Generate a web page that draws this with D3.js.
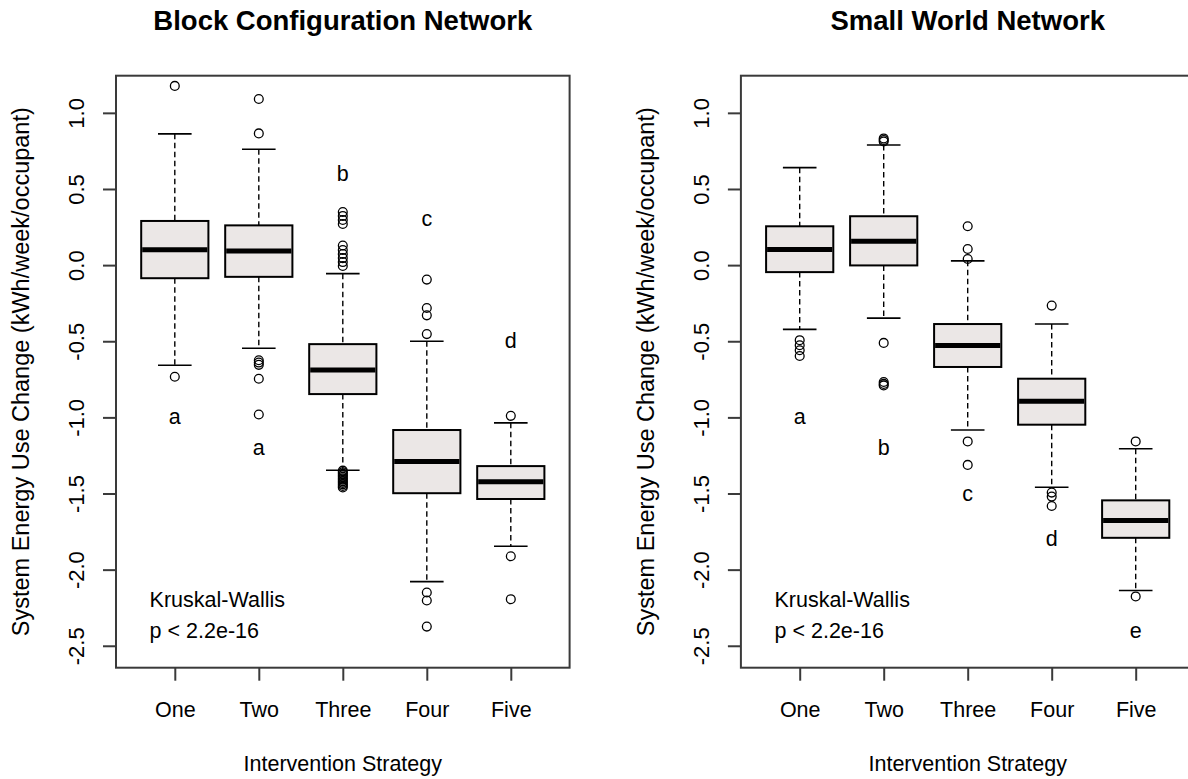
<!DOCTYPE html>
<html>
<head>
<meta charset="utf-8">
<script src="https://cdn.jsdelivr.net/npm/d3@7"></script>
<style>
  html, body { margin: 0; padding: 0; background: #fff; }
  svg text { font-family: "Liberation Sans", Arial, sans-serif; fill: #000; }
</style>
</head>
<body>
<svg id="chart" width="1188" height="779"></svg>
<script>
// Intervention strategies (x categories)
const strategies = ["One", "Two", "Three", "Four", "Five"];
const yTicks = [-2.5, -2.0, -1.5, -1.0, -0.5, 0.0, 0.5, 1.0];

// Block configuration network: box statistics per strategy
const blockLowWhisker  = [-0.658, -0.546, -1.347, -2.079, -1.846];
const blockQ1          = [-0.086, -0.077, -0.847, -1.498, -1.536];
const blockMedian      = [ 0.101,  0.092, -0.689, -1.290, -1.422];
const blockQ3          = [ 0.290,  0.261, -0.519, -1.083, -1.320];
const blockHighWhisker = [ 0.862,  0.761, -0.056, -0.500, -1.036];
const blockOutliers = [
  [1.177, -0.733],
  [1.091, 0.865, -0.625, -0.640, -0.655, -0.746, -0.981],
  [0.349, 0.323, 0.296, 0.270, 0.129, 0.099, 0.073, 0.046, 0.020, -0.006,
   -1.350, -1.360, -1.370, -1.380, -1.390, -1.400, -1.410, -1.420, -1.430, -1.440, -1.450, -1.460],
  [-0.095, -0.282, -0.330, -0.453, -2.150, -2.203, -2.374],
  [-0.990, -1.912, -2.194]
];
const blockLetters  = ["a", "a", "b", "c", "d"];
const blockLetterY  = [-1.0, -1.2, 0.6, 0.3, -0.5];

// Small world network: box statistics per strategy
const swLowWhisker  = [-0.422, -0.348, -1.083, -1.459, -2.137];
const swQ1          = [-0.046, -0.002, -0.669, -1.048, -1.791];
const swMedian      = [ 0.103,  0.156, -0.528, -0.894, -1.677];
const swQ3          = [ 0.255,  0.321, -0.387, -0.746, -1.545];
const swHighWhisker = [ 0.640,  0.789,  0.028, -0.387, -1.206];
const swOutliers = [
  [-0.493, -0.526, -0.559, -0.597],
  [0.832, 0.822, 0.812, -0.511, -0.768, -0.780, -0.790],
  [0.255, 0.106, 0.040, -1.158, -1.312],
  [-0.266, -1.494, -1.520, -1.582],
  [-1.158, -2.176]
];
const swLetters = ["a", "b", "c", "d", "e"];
const swLetterY = [-1.0, -1.2, -1.5, -1.8, -2.4];

const testName = "Kruskal-Wallis";
const testP = "p < 2.2e-16";

const svg = d3.select("#chart");

const frameTop = 75.7, frameBottom = 667.7, frameWidth = 453.6;
const y = d3.scaleLinear().domain([-2.644, 1.244]).range([frameBottom, frameTop]);

function panel(opts) {
  const left = opts.left;
  const x = d3.scaleLinear().domain([0.3, 5.7]).range([left, left + frameWidth]);
  const unit = x(1) - x(0);
  const boxW = 0.8 * unit;
  const capW = 0.4 * unit;
  const g = svg.append("g");

  const boxes = strategies.map((s, i) => ({
    name: s, pos: i + 1,
    lo: opts.low[i], q1: opts.q1[i], med: opts.med[i], q3: opts.q3[i], hi: opts.high[i],
    out: opts.out[i]
  }));

  const bg = g.selectAll("g.box").data(boxes).join("g").attr("class", "box");

  // dashed whiskers
  bg.append("line")
    .attr("x1", d => x(d.pos)).attr("x2", d => x(d.pos))
    .attr("y1", d => y(d.hi)).attr("y2", d => y(d.q3))
    .attr("stroke", "#000").attr("stroke-width", 1.4).attr("stroke-dasharray", "5.5,3.5");
  bg.append("line")
    .attr("x1", d => x(d.pos)).attr("x2", d => x(d.pos))
    .attr("y1", d => y(d.q1)).attr("y2", d => y(d.lo))
    .attr("stroke", "#000").attr("stroke-width", 1.4).attr("stroke-dasharray", "5.5,3.5");
  // whisker caps
  bg.append("line")
    .attr("x1", d => x(d.pos) - capW / 2).attr("x2", d => x(d.pos) + capW / 2)
    .attr("y1", d => y(d.hi)).attr("y2", d => y(d.hi))
    .attr("stroke", "#000").attr("stroke-width", 1.6);
  bg.append("line")
    .attr("x1", d => x(d.pos) - capW / 2).attr("x2", d => x(d.pos) + capW / 2)
    .attr("y1", d => y(d.lo)).attr("y2", d => y(d.lo))
    .attr("stroke", "#000").attr("stroke-width", 1.6);
  // box
  bg.append("rect")
    .attr("x", d => x(d.pos) - boxW / 2).attr("width", boxW)
    .attr("y", d => y(d.q3)).attr("height", d => y(d.q1) - y(d.q3))
    .attr("fill", "#ebe7e6").attr("stroke", "#000").attr("stroke-width", 2);
  // median
  bg.append("line")
    .attr("x1", d => x(d.pos) - boxW / 2 + 1).attr("x2", d => x(d.pos) + boxW / 2 - 1)
    .attr("y1", d => y(d.med)).attr("y2", d => y(d.med))
    .attr("stroke", "#000").attr("stroke-width", 5);
  // outliers
  bg.selectAll("circle").data(d => d.out.map(v => ({ pos: d.pos, v })))
    .join("circle")
    .attr("cx", d => x(d.pos)).attr("cy", d => y(d.v)).attr("r", 4.4)
    .attr("fill", "none").attr("stroke", "#000").attr("stroke-width", 1.3);

  // group letters
  g.selectAll("text.letter").data(opts.letters).join("text")
    .attr("class", "letter")
    .attr("x", (d, i) => x(i + 1)).attr("y", (d, i) => y(opts.letterY[i]))
    .attr("text-anchor", "middle").attr("dominant-baseline", "central")
    .attr("font-size", 21.5).text(d => d);

  // test annotation
  g.append("text").attr("x", x(0.7)).attr("y", y(-2.2))
    .attr("dominant-baseline", "central").attr("font-size", 21.5).text(testName);
  g.append("text").attr("x", x(0.7)).attr("y", y(-2.4))
    .attr("dominant-baseline", "central").attr("font-size", 21.5).text(testP);

  // frame
  g.append("rect")
    .attr("x", left).attr("y", frameTop).attr("width", frameWidth).attr("height", frameBottom - frameTop)
    .attr("fill", "none").attr("stroke", "#3a3a3a").attr("stroke-width", 2);

  // x axis
  const xAxis = g.append("g").attr("transform", `translate(0,${frameBottom})`)
    .call(d3.axisBottom(x).tickValues([1, 2, 3, 4, 5]).tickSize(13).tickFormat(d => strategies[d - 1]));
  xAxis.select(".domain").remove();
  xAxis.selectAll(".tick line").attr("stroke", "#3a3a3a").attr("stroke-width", 2);
  xAxis.selectAll(".tick text").attr("font-size", 21.5).attr("y", 49).attr("dy", 0)
    .attr("font-family", "Liberation Sans, Arial, sans-serif").attr("fill", "#000");

  // y axis
  const yAxis = g.append("g").attr("transform", `translate(${left},0)`)
    .call(d3.axisLeft(y).tickValues(yTicks).tickSize(13).tickFormat(d3.format(".1f")));
  yAxis.select(".domain").remove();
  yAxis.selectAll(".tick line").attr("stroke", "#3a3a3a").attr("stroke-width", 2);
  yAxis.selectAll(".tick text")
    .attr("x", null).attr("dy", null).attr("y", null)
    .attr("text-anchor", "middle")
    .attr("transform", "translate(-32,0) rotate(-90)")
    .attr("font-size", 22)
    .attr("font-family", "Liberation Sans, Arial, sans-serif").attr("fill", "#000")
    .text(d => d3.format(".1f")(d).replace("−", "-"));

  // axis titles
  const cx = left + frameWidth / 2;
  g.append("text").attr("x", cx).attr("y", 771).attr("text-anchor", "middle")
    .attr("font-size", 21.5).text("Intervention Strategy");
  g.append("text")
    .attr("transform", `translate(${left - 87},${(frameTop + frameBottom) / 2}) rotate(-90)`)
    .attr("text-anchor", "middle").attr("font-size", 23.5)
    .text("System Energy Use Change (kWh/week/occupant)");
  // panel title
  g.append("text").attr("x", cx).attr("y", 30).attr("text-anchor", "middle")
    .attr("font-size", 27.5).attr("font-weight", "bold").text(opts.title);
}

panel({
  title: "Block Configuration Network", left: 116,
  low: blockLowWhisker, q1: blockQ1, med: blockMedian, q3: blockQ3, high: blockHighWhisker,
  out: blockOutliers, letters: blockLetters, letterY: blockLetterY
});
panel({
  title: "Small World Network", left: 740.9,
  low: swLowWhisker, q1: swQ1, med: swMedian, q3: swQ3, high: swHighWhisker,
  out: swOutliers, letters: swLetters, letterY: swLetterY
});
</script>
</body>
</html>
